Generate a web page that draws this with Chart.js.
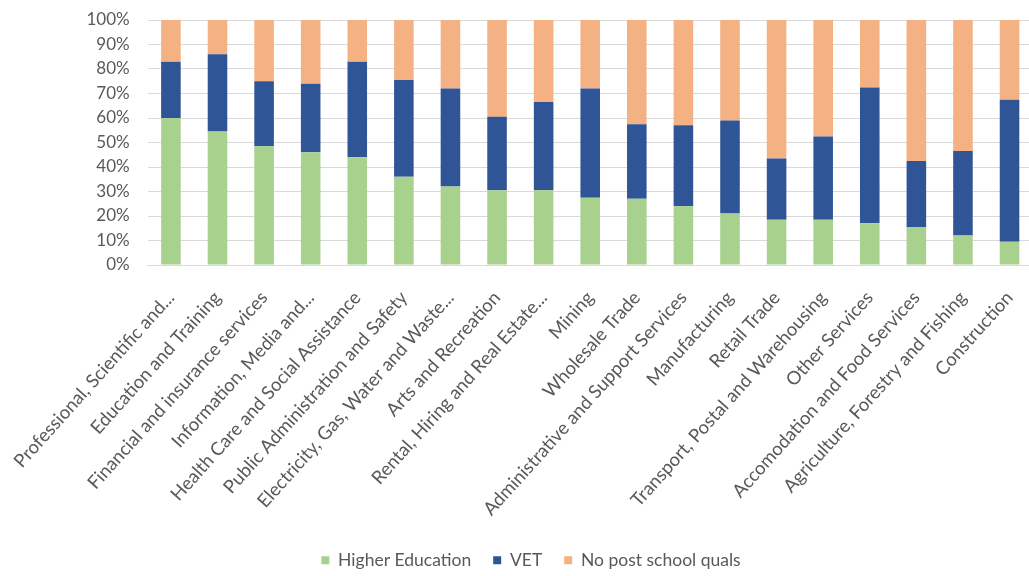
<!DOCTYPE html>
<html><head><meta charset="utf-8">
<script src="https://cdn.jsdelivr.net/npm/chart.js@4"></script>
<style>html,body{margin:0;padding:0;overflow:hidden;background:#fff}#wrap{width:1040px;height:576px}</style>
</head><body><div id="wrap"><canvas id="c" width="1040" height="576"></canvas></div>
<script>
const categories = [
  'Professional, Scientific and...', 'Education and Training', 'Financial and insurance services',
  'Information, Media and...', 'Health Care and Social Assistance', 'Public Administration and Safety',
  'Electricity, Gas, Water and Waste...', 'Arts and Recreation', 'Rental, Hiring and Real Estate...',
  'Mining', 'Wholesale Trade', 'Administrative and Support Services', 'Manufacturing', 'Retail Trade',
  'Transport, Postal and Warehousing', 'Other Services', 'Accomodation and Food Services',
  'Agriculture, Forestry and Fishing', 'Construction'
];
const higherEducation = [60, 54.5, 48.5, 46, 44, 36, 32, 30.5, 30.5, 27.5, 27, 24, 21, 18.5, 18.5, 17, 15.5, 12, 9.5];
const vet =             [23, 31.5, 26.5, 28, 39, 39.5, 40, 30, 36, 44.5, 30.5, 33, 38, 25, 34, 55.5, 27, 34.5, 58];
const noPostSchool =    [17, 14, 25, 26, 17, 24.5, 28, 39.5, 33.5, 28, 42.5, 43, 41, 56.5, 47.5, 27.5, 57.5, 53.5, 32.5];
const yTickLabels = ['0%','10%','20%','30%','40%','50%','60%','70%','80%','90%','100%'];

const FONT = 'Lato';
const PLOT_TOP = 20, PLOT_BOTTOM = 265, PLOT_LEFT = 142;
const legendShift = {
  id: 'legendShift',
  afterLayout(chart) {
    const lg = chart.legend;
    if (!lg) return;
    const dx = 531 - (lg.left + lg.right) / 2;
    lg.left += dx; lg.right += dx;
    lg.top += 3; lg.bottom += 3;
  }
};

new Chart(document.getElementById('c'), {
  type: 'bar',
  data: {
    labels: categories,
    datasets: [
      { label: 'Higher Education', data: higherEducation, backgroundColor: '#a9d18e' },
      { label: 'VET', data: vet, backgroundColor: '#2f5597' },
      { label: 'No post school quals', data: noPostSchool, backgroundColor: '#f4b183' }
    ]
  },
  options: {
    responsive: false,
    animation: false,
    datasets: { bar: { categoryPercentage: 1, barPercentage: 0.42 } },
    layout: { padding: { top: 0, right: 4, left: 0, bottom: 0 } },
    plugins: {
      tooltip: { enabled: false },
      legend: {
        position: 'bottom',
        labels: { font: { family: FONT, size: 17.5 }, color: '#595959', boxWidth: 8, boxHeight: 8, padding: 22 }
      }
    },
    scales: {
      x: {
        stacked: true,
        grid: { display: false },
        border: { color: '#d9d9d9' },
        ticks: { minRotation: 48, maxRotation: 48, autoSkip: false, font: { family: FONT, size: 18.5 }, color: '#595959', padding: 14 },
        afterFit(s) { s.height = 576 - PLOT_BOTTOM - (s.chart.legend ? s.chart.legend.height : 0); }
      },
      y: {
        stacked: true,
        min: 0, max: 100,
        grid: { color: '#d9d9d9', drawTicks: false },
        border: { display: false },
        ticks: {
          stepSize: 10, padding: 18,
          font: { family: FONT, size: 17 }, color: '#595959',
          callback: (v) => yTickLabels[Math.round(v / 10)]
        },
        afterFit(s) { s.width = PLOT_LEFT; s.paddingTop = PLOT_TOP; }
      }
    }
  },
  plugins: [legendShift]
});
</script>
</body></html>
